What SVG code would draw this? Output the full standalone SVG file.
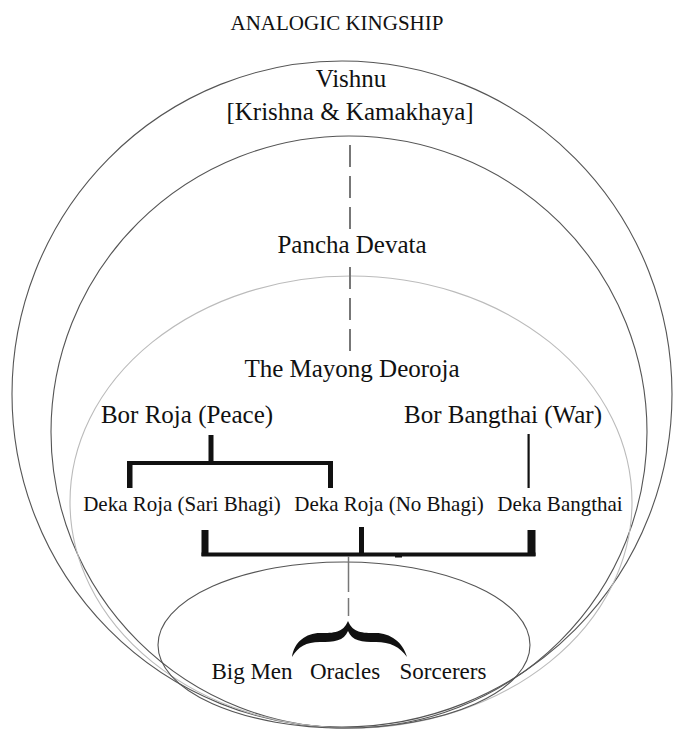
<svg xmlns="http://www.w3.org/2000/svg" width="674" height="729" viewBox="0 0 674 729">
<style>
  .t { font-family: "Liberation Serif", "Times New Roman", serif; fill: #111; text-anchor: middle; }
  .ring { fill: none; stroke: #555; stroke-width: 1.1; }
  .ring-light { fill: none; stroke: #bbb; stroke-width: 1.1; }
  .dash { stroke: #777; stroke-width: 2; stroke-dasharray: 22 9; fill: none; }
  .bar { fill: #111; }
</style>
<rect width="674" height="729" fill="#fff"/>
<text class="t" x="337" y="30" font-size="21">ANALOGIC KINGSHIP</text>

<g id="vishnu">
  <ellipse class="ring" cx="342" cy="394" rx="330" ry="333"/>
  <text class="t" x="351" y="87" font-size="25">Vishnu</text>
  <text class="t" x="350" y="120" font-size="25">[Krishna &amp; Kamakhaya]</text>
</g>
<g id="pancha-devata">
  <ellipse class="ring" cx="349" cy="432" rx="298" ry="296"/>
  <text class="t" x="352" y="253" font-size="25">Pancha Devata</text>
</g>
<g id="mayong-deoroja">
  <ellipse class="ring-light" cx="351" cy="502" rx="281" ry="226"/>
  <text class="t" x="352" y="377" font-size="25">The Mayong Deoroja</text>
</g>
<g id="bor-roja">
  <text class="t" x="187" y="423" font-size="25">Bor Roja (Peace)</text>
</g>
<g id="bor-bangthai">
  <text class="t" x="503" y="423" font-size="25">Bor Bangthai (War)</text>
</g>
<g id="deka-roja-sari">
  <text class="t" x="182" y="511" font-size="21">Deka Roja (Sari Bhagi)</text>
</g>
<g id="deka-roja-no">
  <text class="t" x="389" y="511" font-size="21">Deka Roja (No Bhagi)</text>
</g>
<g id="deka-bangthai">
  <text class="t" x="560" y="511" font-size="21">Deka Bangthai</text>
</g>
<g id="commoners">
  <ellipse class="ring" cx="344" cy="645" rx="186" ry="83"/>
  <text class="t" x="252" y="679" font-size="23">Big Men</text>
  <text class="t" x="345" y="679" font-size="23">Oracles</text>
  <text class="t" x="443" y="679" font-size="23">Sorcerers</text>
</g>

<g id="connectors">
  <line class="dash" x1="350" y1="145" x2="350" y2="230"/>
  <line class="dash" x1="350" y1="267" x2="350" y2="353"/>
  <!-- Bor Roja bracket -->
  <rect class="bar" x="208.5" y="435" width="5" height="28"/>
  <rect class="bar" x="127" y="461" width="206" height="4"/>
  <rect class="bar" x="127" y="461" width="5.5" height="27"/>
  <rect class="bar" x="328" y="461" width="5" height="27"/>
  <!-- Bor Bangthai line -->
  <rect class="bar" x="527.5" y="434" width="2.2" height="54"/>
  <!-- lower bracket -->
  <rect class="bar" x="201.5" y="530" width="7" height="26"/>
  <rect class="bar" x="359" y="527" width="5" height="28"/>
  <rect class="bar" x="527.5" y="530" width="8" height="26"/>
  <rect class="bar" x="201.5" y="552.5" width="334" height="4"/>
  <rect class="bar" x="395" y="555" width="7" height="2.5"/>
  <!-- to commoners -->
  <line stroke="#777" stroke-width="1.5" x1="348.5" y1="556" x2="348.5" y2="592"/>
  <line stroke="#777" stroke-width="1.5" x1="348.5" y1="598" x2="348.5" y2="616"/>
  <path class="bar" d="M292,657 C294,642 306,633 320,633 C334,633 343,633 348,621 C353,633 362,633 376,633 C390,633 403,642 407,657 C400,647 390,642 376,642 C362,642 352,641 348,631 C344,641 334,642 320,642 C306,642 298,647 292,657 Z"/>
</g>
</svg>
